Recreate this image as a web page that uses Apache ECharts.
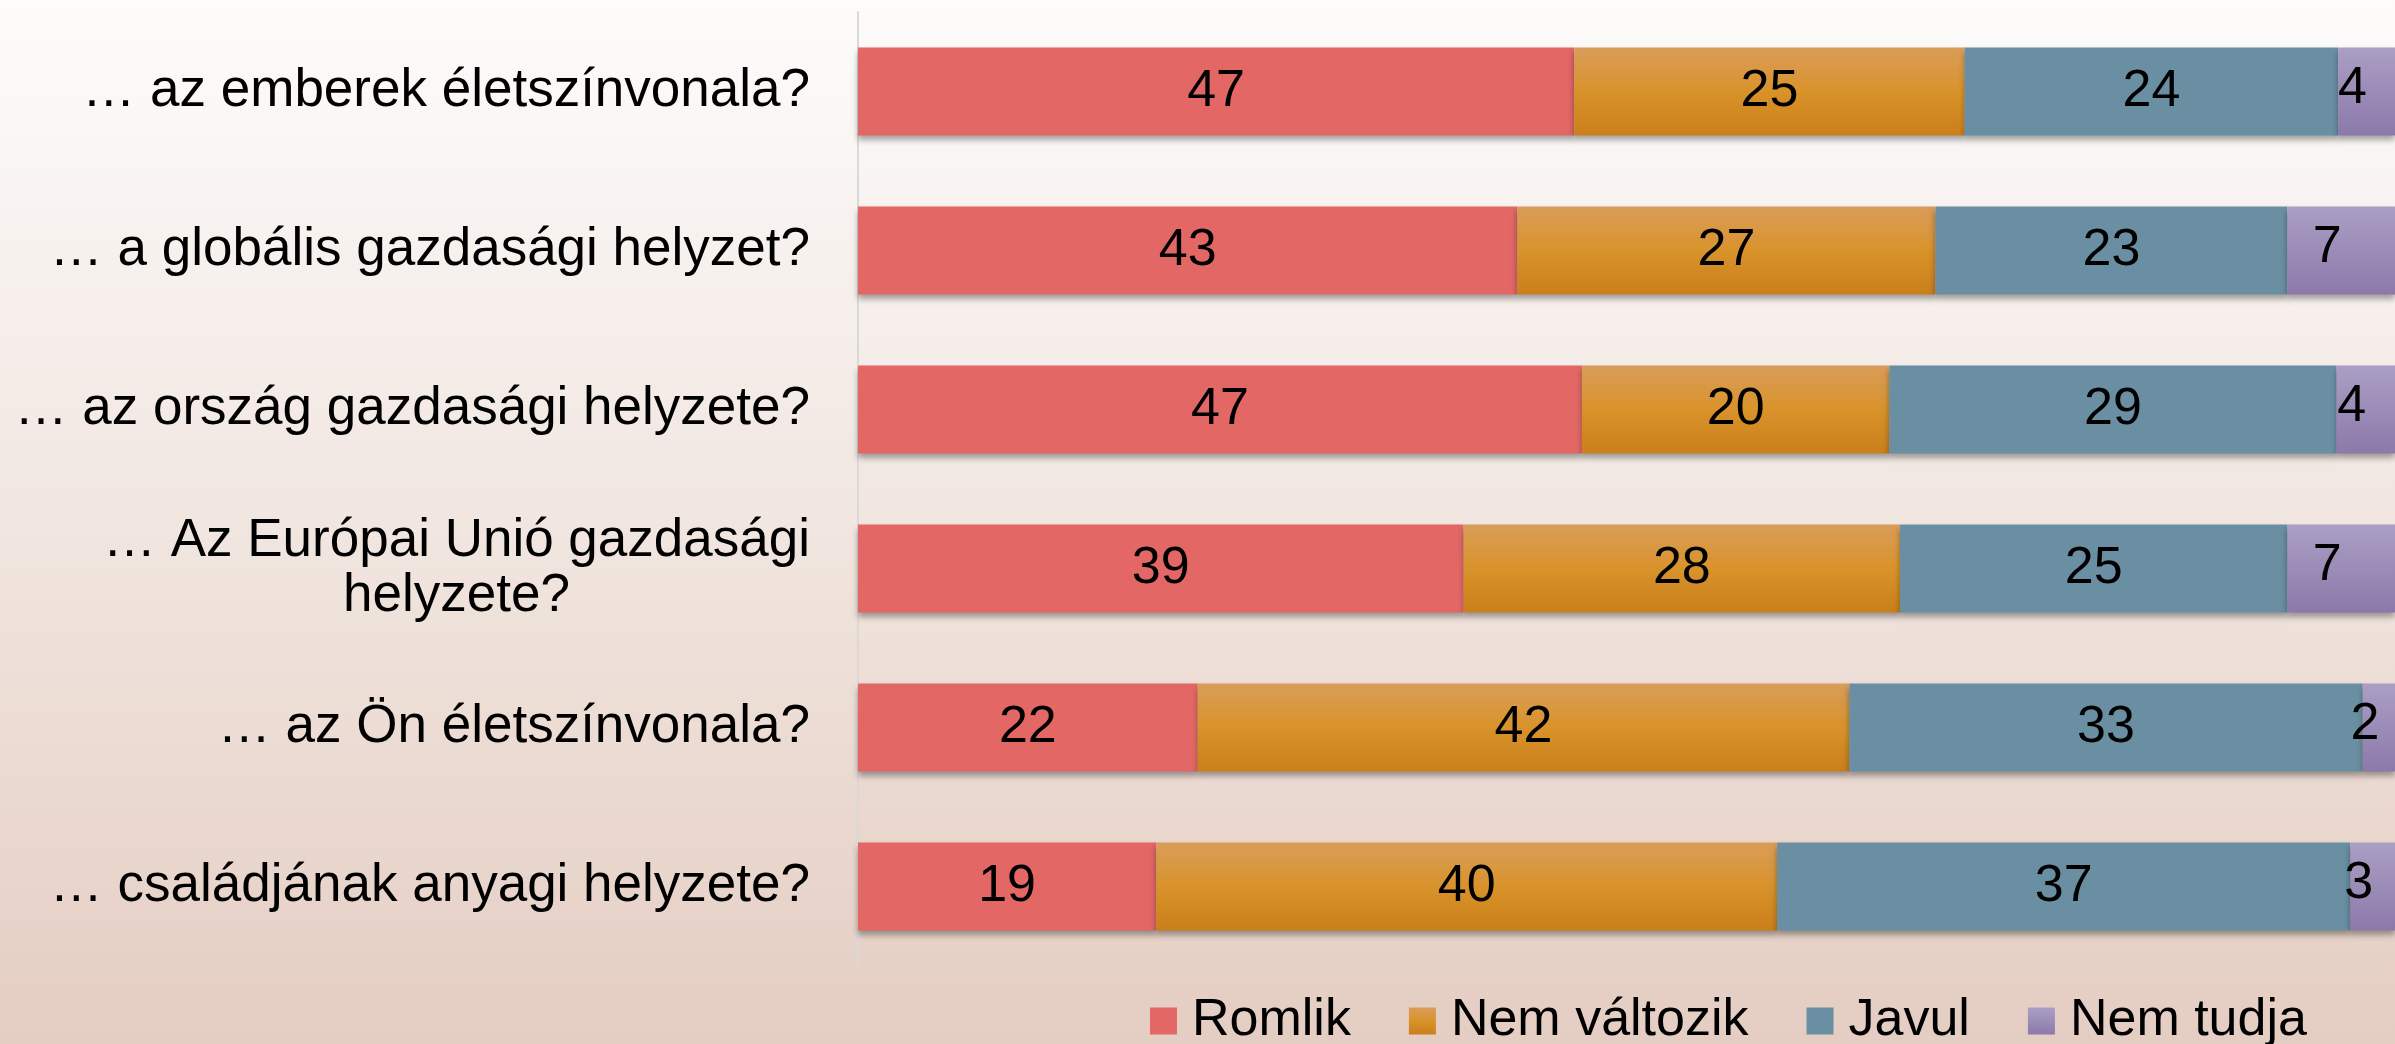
<!DOCTYPE html>
<html lang="hu">
<head>
	<meta charset="UTF-8">
	<title>Várakozások</title>
	<script type="text/javascript" src="https://cdn.jsdelivr.net/npm/echarts@6.0.0/dist/echarts.min.js"></script>
	<style>
		html, body { margin: 0; padding: 0; }
		#main { width: 2395px; height: 1044px; }
	</style>
</head>
<body>
	<div id="main"></div>
	<script type="text/javascript">
		// kérdések (felülről lefelé)
		var categories = [
			'… az emberek életszínvonala?',
			'… a globális gazdasági helyzet?',
			'… az ország gazdasági helyzete?',
			'… Az Európai Unió gazdasági\nhelyzete?',
			'… az Ön életszínvonala?',
			'… családjának anyagi helyzete?'
		];
		// százalékok, a címkék kerekítve jelennek meg
		var romlik = [46.6, 42.9, 47.1, 39.4, 22.1, 19.4];
		var nemValtozik = [25.4, 27.2, 20.0, 28.4, 42.4, 40.4];
		var javul = [24.3, 22.9, 29.1, 25.2, 33.4, 37.3];
		var nemTudja = [3.7, 7.0, 3.8, 7.0, 2.1, 2.9];

		var font = '"Liberation Sans", Arial, sans-serif';

		function vgrad(stops) {
			return new echarts.graphic.LinearGradient(0, 0, 0, 1, stops);
		}

		var barShadow = {
			shadowColor: 'rgba(0,0,0,0.35)',
			shadowBlur: 6,
			shadowOffsetY: 4
		};

		function serie(name, data, color, extraLabel) {
			var label = {
				show: true,
				position: 'inside',
				color: '#000',
				fontSize: 52,
				fontFamily: font,
				formatter: function (p) { return Math.round(p.value); }
			};
			if (extraLabel) {
				for (var k in extraLabel) label[k] = extraLabel[k];
			}
			return {
				name: name,
				type: 'bar',
				stack: 'total',
				barWidth: 88,
				data: data,
				label: label,
				itemStyle: Object.assign({ color: color }, barShadow)
			};
		}

		var myChart = echarts.init(document.getElementById('main'));
		var option = {
			animation: false,
			backgroundColor: vgrad([
				{ offset: 0, color: '#fdfcfb' },
				{ offset: 0.5, color: '#f1e6e0' },
				{ offset: 1, color: '#e4cdc2' }
			]),
			textStyle: { fontFamily: font },
			grid: {
				left: 858,
				top: 12,
				height: 954,
				right: 0
			},
			legend: {
				left: 1145,
				top: 990,
				itemWidth: 27,
				itemHeight: 27,
				itemGap: 58,
				icon: 'rect',
				itemStyle: { shadowBlur: 0, shadowOffsetY: 0, shadowColor: 'transparent' },
				textStyle: {
					fontSize: 52,
					fontFamily: font,
					color: '#000',
					lineHeight: 52,
					padding: [0, 0, 0, 10]
				},
				data: ['Romlik', 'Nem változik', 'Javul', 'Nem tudja']
			},
			xAxis: {
				type: 'value',
				min: 0,
				max: 100,
				show: false,
				splitLine: { show: false }
			},
			yAxis: {
				type: 'category',
				inverse: true,
				data: categories,
				axisLine: { show: true, lineStyle: { color: '#d9d9d9', width: 2 } },
				axisTick: { show: false },
				axisLabel: {
					margin: 48,
					formatter: function (v) { return '{c|' + v + '}'; },
					rich: {
						c: {
							fontSize: 53,
							fontFamily: font,
							color: '#000',
							align: 'center',
							lineHeight: 55
						}
					}
				}
			},
			series: [
				serie('Romlik', romlik, '#e26765'),
				serie('Nem változik', nemValtozik, vgrad([
					{ offset: 0, color: '#d99d5a' },
					{ offset: 0.5, color: '#d9932b' },
					{ offset: 1, color: '#ca7f1a' }
				])),
				serie('Javul', javul, '#6a8fa3'),
				serie('Nem tudja', nemTudja, vgrad([
					{ offset: 0, color: '#ab9fc5' },
					{ offset: 1, color: '#8c79aa' }
				]), { offset: [-14, -3] })
			]
		};
		myChart.setOption(option);
	</script>
</body>
</html>
